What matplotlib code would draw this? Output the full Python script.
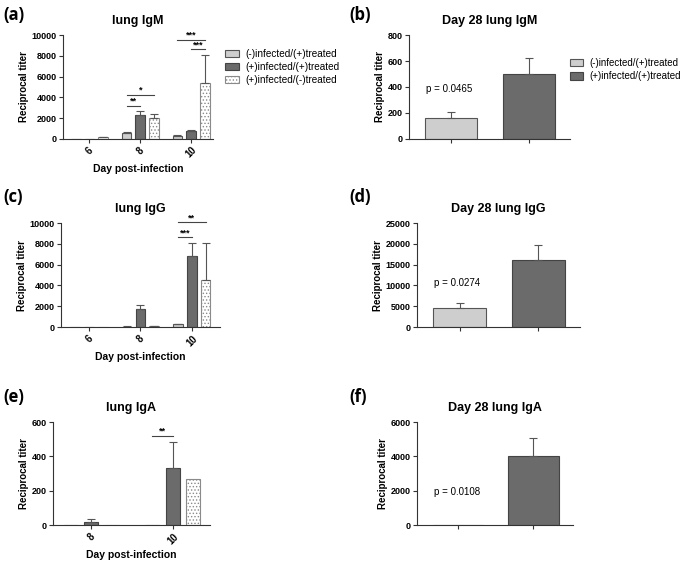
import numpy as np
import matplotlib
matplotlib.use("Agg")
import matplotlib.pyplot as plt

plt.rcParams['font.family'] = ['Liberation Sans', 'DejaVu Sans']
plt.rcParams['hatch.linewidth'] = 0.6
plt.rcParams['hatch.color'] = '#8a8a8a'

# groups / legend
grupos = ['(-)infected/(+)treated', '(+)infected/(+)treated', '(+)infected/(-)treated']

# (a) lung IgM
dias_igm = ['6', '8', '10']
igm_neg_pos = [0, 600, 300]
igm_neg_pos_err = [0, 100, 100]
igm_pos_pos = [0, 2300, 750]
igm_pos_pos_err = [0, 400, 150]
igm_pos_neg = [200, 2000, 5400]
igm_pos_neg_err = [30, 400, 2700]

# (c) lung IgG
dias_igg = ['6', '8', '10']
igg_neg_pos = [15, 50, 250]
igg_neg_pos_err = [0, 20, 50]
igg_pos_pos = [0, 1700, 6800]
igg_pos_pos_err = [0, 450, 1300]
igg_pos_neg = [0, 100, 4500]
igg_pos_neg_err = [0, 50, 3600]

# (e) lung IgA
dias_iga = ['8', '10']
iga_neg_pos = [0, 0]
iga_neg_pos_err = [0, 0]
iga_pos_pos = [18, 330]
iga_pos_pos_err = [15, 157]
iga_pos_neg = [0, 270]
iga_pos_neg_err = [0, 0]

# day 28 panels (b, d, f)
d28_igm = [165, 500]
d28_igm_err = [45, 125]
d28_igg = [4500, 16200]
d28_igg_err = [1200, 3600]
d28_iga = [0, 4050]
d28_iga_err = [0, 1000]

p_igm = 'p = 0.0465'
p_igg = 'p = 0.0274'
p_iga = 'p = 0.0108'

CLARO = '#cecece'
ESCURO = '#6b6b6b'
estilos = [
    dict(color=CLARO, edgecolor='#555555'),
    dict(color=ESCURO, edgecolor='#444444'),
    dict(color='white', edgecolor='#8a8a8a', hatch='.....'),
]
COR_ERRO = '#555555'
COR_EIXO = '#333333'


def estilo_eixo(ax, yticks):
    ax.spines['top'].set_visible(False)
    ax.spines['right'].set_visible(False)
    ax.spines['left'].set_color(COR_EIXO)
    ax.spines['bottom'].set_color(COR_EIXO)
    ax.set_yticks(yticks)
    ax.set_ylim(yticks[0], yticks[-1])
    ax.tick_params(axis='both', length=3, width=0.8, color=COR_EIXO, labelsize=6.5, pad=1.5)
    for t in ax.get_yticklabels():
        t.set_fontweight('bold')
    ax.set_ylabel('Reciprocal titer', fontsize=7, fontweight='bold', labelpad=2)


def barra_erro(ax, x, y, err):
    for xi, yi, ei in zip(x, y, err):
        if ei > 0:
            ax.errorbar(xi, yi, yerr=[[0], [ei]], fmt='none', ecolor=COR_ERRO,
                        elinewidth=0.8, capsize=3, capthick=0.8)


def painel_grupos(ax, dias, series, erros, yticks, titulo, largura, passo, xlim):
    x = np.arange(len(dias))
    barras = []
    for i, (vals, errs) in enumerate(zip(series, erros)):
        pos = x + (i - 1) * passo
        b = ax.bar(pos, vals, width=largura, linewidth=0.8, **estilos[i])
        barras.append(b)
        barra_erro(ax, pos, vals, errs)
    estilo_eixo(ax, yticks)
    ax.set_xlim(*xlim)
    ax.set_xticks(x)
    ax.set_xticklabels(dias, rotation=45, fontsize=7, fontweight='bold')
    ax.set_xlabel('Day post-infection', fontsize=7.5, fontweight='bold', labelpad=3)
    ax.set_title(titulo, fontsize=9, fontweight='bold', pad=8)
    return barras


def significancia(ax, g, i, j, y, texto, passo):
    x1 = g + (i - 1) * passo
    x2 = g + (j - 1) * passo
    ax.plot([x1, x2], [y, y], color='#444444', lw=0.8, clip_on=False)
    ax.text((x1 + x2) / 2, y, texto, ha='center', va='bottom', fontsize=6.5,
            fontweight='bold', clip_on=False)


def painel_d28(ax, vals, errs, yticks, titulo, ptexto, py):
    x = np.arange(2)
    barras = []
    for i in range(2):
        b = ax.bar(x[i], vals[i], width=0.67, linewidth=0.8, **estilos[i])
        barras.append(b)
    barra_erro(ax, x, vals, errs)
    estilo_eixo(ax, yticks)
    ax.set_xlim(-0.54, 1.53)
    ax.set_xticks(x)
    ax.set_xticklabels(['', ''])
    ax.set_title(titulo, fontsize=9, fontweight='bold', pad=8)
    ax.text(-0.32, py, ptexto, fontsize=7, va='center')
    return barras


fig = plt.figure(figsize=(6.85, 5.62), dpi=100)

ax_a = fig.add_axes([0.092, 0.7527, 0.219, 0.185])
ax_b = fig.add_axes([0.597, 0.7527, 0.235, 0.185])
ax_c = fig.add_axes([0.089, 0.418, 0.232, 0.185])
ax_d = fig.add_axes([0.609, 0.418, 0.238, 0.185])
ax_e = fig.add_axes([0.077, 0.0658, 0.229, 0.183])
ax_f = fig.add_axes([0.609, 0.0658, 0.228, 0.183])

passo3 = 0.27
barras = painel_grupos(ax_a, dias_igm, [igm_neg_pos, igm_pos_pos, igm_pos_neg],
                       [igm_neg_pos_err, igm_pos_pos_err, igm_pos_neg_err],
                       [0, 2000, 4000, 6000, 8000, 10000], 'lung IgM', 0.19, passo3, (-0.52, 2.43))
significancia(ax_a, 1, 0, 1, 3200, '**', passo3)
significancia(ax_a, 1, 0, 2, 4250, '*', passo3)
significancia(ax_a, 2, 0, 2, 9550, '***', passo3)
significancia(ax_a, 2, 1, 2, 8650, '***', passo3)

painel_grupos(ax_c, dias_igg, [igg_neg_pos, igg_pos_pos, igg_pos_neg],
              [igg_neg_pos_err, igg_pos_pos_err, igg_pos_neg_err],
              [0, 2000, 4000, 6000, 8000, 10000], 'lung IgG', 0.19, passo3, (-0.55, 2.55))
significancia(ax_c, 2, 0, 1, 8650, '***', passo3)
significancia(ax_c, 2, 0, 2, 10100, '**', passo3)

passo2 = 0.25
painel_grupos(ax_e, dias_iga, [iga_neg_pos, iga_pos_pos, iga_pos_neg],
              [iga_neg_pos_err, iga_pos_pos_err, iga_pos_neg_err],
              [0, 200, 400, 600], 'lung IgA', 0.17, passo2, (-0.47, 1.45))
significancia(ax_e, 1, 0, 1, 520, '**', passo2)

barras_b = painel_d28(ax_b, d28_igm, d28_igm_err, [0, 200, 400, 600, 800],
                      'Day 28 lung IgM', p_igm, 386)
painel_d28(ax_d, d28_igg, d28_igg_err, [0, 5000, 10000, 15000, 20000, 25000],
           'Day 28 lung IgG', p_igg, 10600)
painel_d28(ax_f, d28_iga, d28_iga_err, [0, 2000, 4000, 6000],
           'Day 28 lung IgA', p_iga, 1900)

fig.legend(barras, grupos, loc='upper left', bbox_to_anchor=(0.322, 0.92),
           frameon=False, fontsize=7.2, handlelength=1.4, handleheight=0.8,
           handletextpad=0.7, labelspacing=0.3, borderaxespad=0)
fig.legend(barras_b, grupos[:2], loc='upper left', bbox_to_anchor=(0.826, 0.904),
           frameon=False, fontsize=7, handlelength=1.4, handleheight=0.8,
           handletextpad=0.6, labelspacing=0.35, borderaxespad=0)

# rotulos dos paineis
rotulos = [('(a)', 0.005, 0.99), ('(b)', 0.51, 0.99), ('(c)', 0.005, 0.665),
           ('(d)', 0.51, 0.665), ('(e)', 0.005, 0.31), ('(f)', 0.51, 0.31)]
for txt, x, y in rotulos:
    fig.text(x, y, txt, fontsize=12, fontweight='bold', va='top', family=['Open Sans', 'DejaVu Sans'])

fig.savefig('out.png', dpi=100)
